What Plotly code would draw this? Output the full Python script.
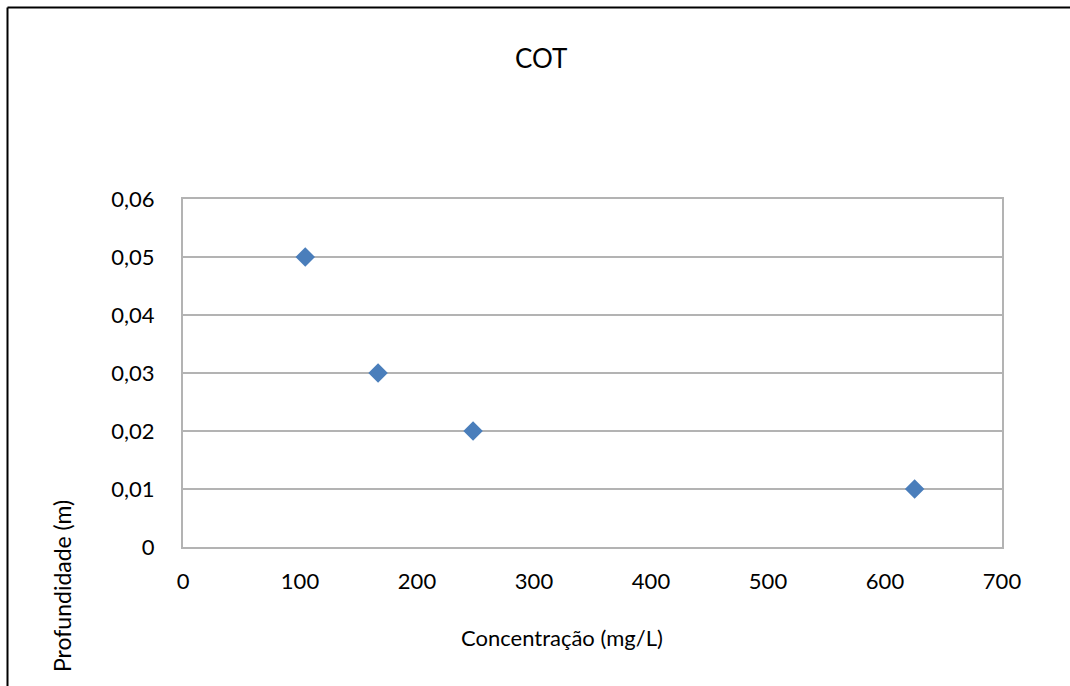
import plotly.graph_objects as go

# Data: concentration of COT (mg/L) vs depth (m)
concentracao = [104.5, 166.7, 247.9, 625.3]
profundidade = [0.05, 0.03, 0.02, 0.01]

y_tickvals = [0, 0.01, 0.02, 0.03, 0.04, 0.05, 0.06]
y_ticktext = ["0", "0,01", "0,02", "0,03", "0,04", "0,05", "0,06"]
x_tickvals = [0, 100, 200, 300, 400, 500, 600, 700]
x_ticktext = ["0", "100", "200", "300", "400", "500", "600", "700"]

W, H = 1070, 686
L, R, T, B = 183, 68, 199, 139
PW, PH = W - L - R, H - T - B

FONT = "Lato, Carlito, 'Open Sans', sans-serif"
GRID = "#b3b3b3"


def px_to_paper(px, py):
    return (px - L) / PW, (H - B - py) / PH


fig = go.Figure()
fig.add_trace(go.Scatter(
    x=concentracao, y=profundidade, mode="markers",
    marker=dict(symbol="diamond", size=15, color="#4a7ebb",
                line=dict(width=0)),
    showlegend=False,
))

# Outer chart frame (top and left edges)
x0, y0 = px_to_paper(7.5, 7.5)
x1, _ = px_to_paper(W + 5, 7.5)
_, y1 = px_to_paper(7.5, H + 5)
shapes = [
    dict(type="line", xref="paper", yref="paper", x0=x0, y0=y0, x1=x1, y1=y0,
         line=dict(color="black", width=2)),
    dict(type="line", xref="paper", yref="paper", x0=x0, y0=y0, x1=x0, y1=y1,
         line=dict(color="black", width=2)),
]

tx, ty = px_to_paper(541, 58)
xtx, xty = px_to_paper(562, 637)
ytx, yty = px_to_paper(62, 586)
annotations = [
    dict(text="COT", x=tx, y=ty, xref="paper", yref="paper", showarrow=False,
         xanchor="center", yanchor="middle", font=dict(size=26, color="black", family=FONT)),
    dict(text="Concentração (mg/L)", x=xtx, y=xty, xref="paper", yref="paper",
         showarrow=False, xanchor="center", yanchor="middle",
         font=dict(size=22, color="black", family=FONT)),
    dict(text="Profundidade (m)", x=ytx, y=yty, xref="paper", yref="paper",
         showarrow=False, xanchor="center", yanchor="middle", textangle=-90,
         font=dict(size=23, color="black", family=FONT)),
]

fig.update_layout(
    width=W, height=H,
    margin=dict(l=L, r=R, t=T, b=B),
    paper_bgcolor="white", plot_bgcolor="white",
    font=dict(family=FONT, color="black", size=22),
    shapes=shapes, annotations=annotations,
    xaxis=dict(range=[0, 700], tickvals=x_tickvals, ticktext=x_ticktext,
               showgrid=False, zeroline=False, showline=True, linecolor=GRID,
               linewidth=2, mirror=True, ticks="", ticklabelstandoff=14,
               tickfont=dict(size=22)),
    yaxis=dict(range=[0, 0.06], tickvals=y_tickvals, ticktext=y_ticktext,
               showgrid=True, gridcolor=GRID, gridwidth=2, zeroline=False,
               showline=True, linecolor=GRID, linewidth=2, mirror=True,
               ticks="", ticklabelstandoff=22, tickfont=dict(size=22)),
)

fig.write_html("out.html")
